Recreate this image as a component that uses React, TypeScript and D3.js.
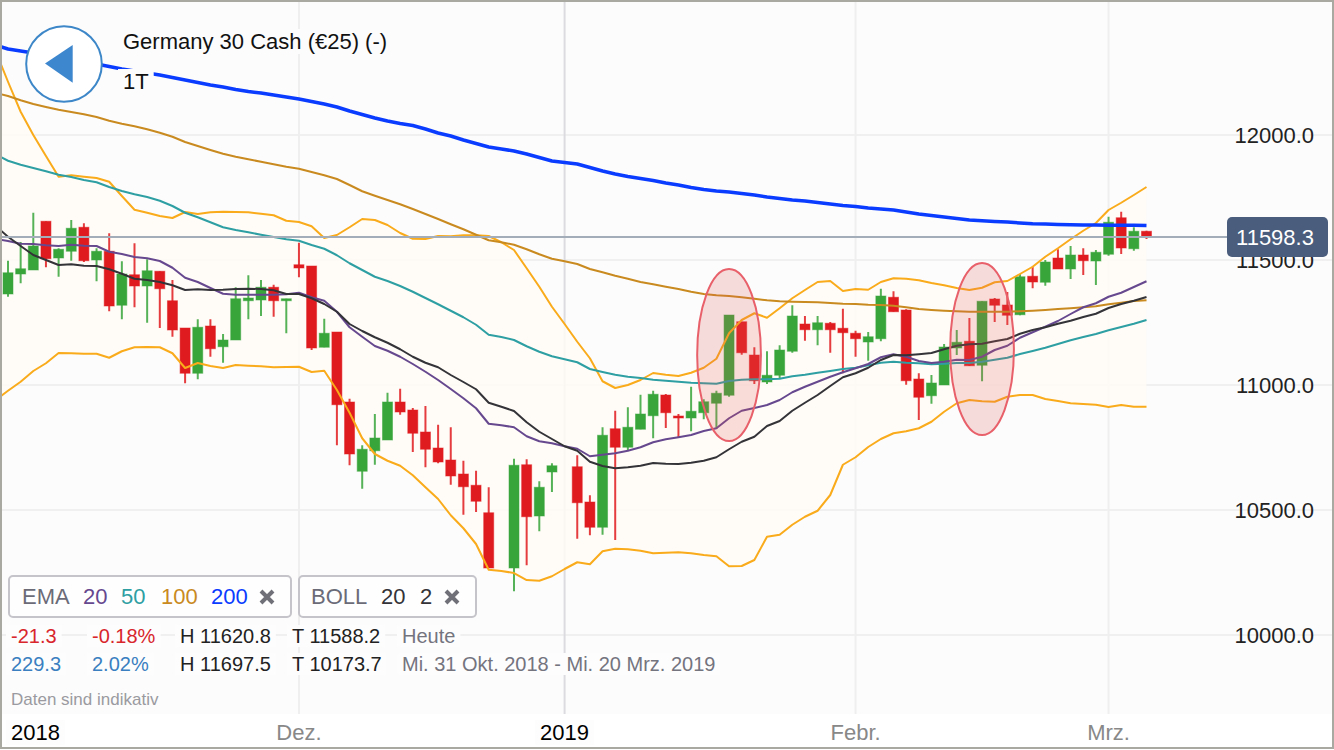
import React, { useEffect, useRef } from 'react';
import * as d3 from 'd3';

const W = 1334;
const H = 750;

// candles, one slot per trading day on the axis (null = no session)
const opens = [
	11364, 11444, 11460, 11655, 11508, 11535, 11631, 11500, 11535, 11319,
	11441, 11396, 11455, 11337, 11228, 11047, 11236, 11153, 11180, 11337,
	11340, 11391, 11337, 11481, 11476, 11151, 11212, 10932, 10655, 10737,
	10780, 10932, 10900, 10812, 10748, 10700, 10644, 10599, 10489, null,
	10268, 10681, 10476, 10652, null, 10673, 10532, 10431, 10825, 10751,
	10823, 10877, 10960, 10876, 10868, 10889, 10927, 10959, 11253, 11120,
	11012, 11039, 11135, 11244, 11221, 11247, 11227, 11207, 11172, 11185,
	11351, 11300, 11024, 10957, 11000, 11148, 11175, 11079, 11344, 11320,
	11281, 11435, 11411, 11508, 11464, 11520, 11496, 11523, 11669, 11545,
	11615,
];
const highs = [
	11497, 11572, 11689, 11655, 11547, 11660, 11647, 11547, 11607, 11495,
	11567, 11503, 11455, 11420, 11228, 11263, 11263, 11204, 11391, 11439,
	11420, 11401, 11345, 11569, 11476, 11265, 11212, 10945, 10759, 10884,
	10969, 10985, 10908, 10916, 10841, 10831, 10697, 10657, 10591, null,
	10705, 10703, 10615, 10687, null, 10719, 10559, 10831, 10897, 10911,
	10961, 10977, 10964, 10884, 10993, 10943, 10977, 11280, 11253, 11151,
	11135, 11159, 11319, 11276, 11276, 11252, 11305, 11217, 11212, 11385,
	11375, 11303, 11047, 11040, 11164, 11220, 11268, 11335, 11348, 11372,
	11444, 11473, 11500, 11543, 11556, 11547, 11540, 11673, 11693, 11631,
	11617,
];
const lows = [
	11353, 11407, 11460, 11471, 11433, 11497, 11492, 11415, 11295, 11263,
	11311, 11249, 11228, 11193, 11007, 11023, 11113, 11089, 11180, 11263,
	11276, 11273, 11207, 11431, 11140, 11151, 10759, 10679, 10585, 10681,
	10780, 10881, 10732, 10671, 10687, 10601, 10481, 10492, 10268, null,
	10175, 10279, 10415, 10572, null, 10385, 10399, 10401, 10380, 10740,
	10823, 10787, 10828, 10791, 10815, 10863, 10825, 10953, 11121, 11004,
	11004, 11025, 11129, 11177, 11159, 11129, 11047, 11113, 11097, 11175,
	11293, 11001, 10860, 10925, 11000, 11120, 11076, 11015, 11252, 11240,
	11279, 11387, 11397, 11464, 11424, 11440, 11400, 11517, 11524, 11537,
	11584,
];
const closes = [
	11449, 11465, 11556, 11505, 11543, 11627, 11497, 11535, 11316, 11444,
	11396, 11457, 11385, 11220, 11047, 11231, 11145, 11180, 11345, 11348,
	11391, 11337, 11345, 11468, 11148, 11207, 10921, 10724, 10743, 10788,
	10932, 10892, 10807, 10743, 10692, 10636, 10593, 10535, 10268, null,
	10679, 10473, 10591, 10677, null, 10529, 10431, 10799, 10751, 10831,
	10884, 10963, 10889, 10868, 10895, 10933, 10967, 11280, 11129, 11017,
	11039, 11140, 11276, 11221, 11249, 11221, 11209, 11185, 11193, 11356,
	11293, 11017, 10951, 11008, 11152, 11171, 11077, 11335, 11319, 11279,
	11433, 11412, 11492, 11464, 11520, 11497, 11531, 11651, 11548, 11615,
	11592,
];

// indicator lines start one session before the first candle (off the left edge)
const bollUpper = [
	12339,
	12213, 12093, 12000, 11916, 11833, 11839, 11833, 11828, 11813, 11756,
	11701, 11689, 11676, 11668, 11692, 11684, 11691, 11693, 11692, 11691,
	11685, 11679, 11657, 11652, 11635, 11588, 11600, 11631, 11664, 11660,
	11640, 11608, 11585, 11584, 11596, 11595, 11599, 11599, 11596, 11571,
	11540, 11467, 11393, 11313, 11244, 11173, 11107, 11015, 10988, 11000,
	11020, 11048, 11041, 11036, 11049, 11069, 11105, 11207, 11260, 11287,
	11269, 11307, 11347, 11380, 11412, 11416, 11376, 11384, 11381, 11412,
	11427, 11425, 11419, 11408, 11399, 11388, 11380, 11389, 11411, 11416,
	11444, 11473, 11513, 11547, 11583, 11617, 11648, 11700, 11729, 11760,
	11792,
];
const bollLower = [
	10940,
	10977, 11013, 11056, 11087, 11128, 11127, 11125, 11125, 11109, 11135,
	11151, 11152, 11151, 11127, 11068, 11088, 11076, 11068, 11080, 11077,
	11075, 11071, 11072, 11073, 11052, 11057, 10980, 10889, 10787, 10724,
	10697, 10677, 10639, 10591, 10544, 10479, 10427, 10364, 10261, 10256,
	10248, 10220, 10217, 10235, 10264, 10291, 10283, 10335, 10345, 10343,
	10337, 10327, 10329, 10331, 10327, 10320, 10315, 10275, 10276, 10300,
	10393, 10401, 10441, 10473, 10497, 10560, 10681, 10711, 10752, 10784,
	10807, 10815, 10827, 10853, 10893, 10927, 10940, 10935, 10933, 10953,
	10960, 10960, 10944, 10936, 10927, 10924, 10921, 10912, 10920, 10913,
	10913,
];
const bollMid = [
	11637,
	11593, 11556, 11520, 11500, 11480, 11483, 11477, 11476, 11463, 11445,
	11425, 11420, 11412, 11399, 11380, 11383, 11380, 11381, 11384, 11385,
	11384, 11379, 11364, 11364, 11347, 11324, 11293, 11244, 11216, 11191,
	11169, 11143, 11113, 11089, 11071, 11040, 11012, 10983, 10929, 10913,
	10896, 10851, 10813, 10784, 10755, 10737, 10693, 10676, 10667, 10671,
	10677, 10688, 10685, 10684, 10689, 10697, 10711, 10743, 10773, 10793,
	10836, 10856, 10897, 10929, 10960, 10996, 11031, 11047, 11069, 11100,
	11120, 11119, 11123, 11128, 11143, 11157, 11163, 11165, 11175, 11184,
	11205, 11220, 11231, 11245, 11257, 11272, 11285, 11308, 11324, 11337,
	11352,
];
const ema20 = [
	11584,
	11576, 11565, 11564, 11559, 11556, 11561, 11557, 11556, 11533, 11524,
	11512, 11507, 11496, 11469, 11429, 11412, 11388, 11365, 11361, 11361,
	11361, 11361, 11363, 11369, 11351, 11337, 11293, 11231, 11193, 11156,
	11137, 11113, 11084, 11053, 11020, 10984, 10947, 10907, 10845, 10839,
	10831, 10795, 10775, 10767, 10755, 10745, 10715, 10721, 10727, 10737,
	10751, 10771, 10783, 10791, 10800, 10816, 10827, 10867, 10897, 10908,
	10920, 10940, 10971, 10993, 11013, 11033, 11051, 11067, 11084, 11111,
	11123, 11113, 11096, 11088, 11093, 11101, 11100, 11113, 11140, 11157,
	11189, 11211, 11233, 11256, 11284, 11311, 11327, 11353, 11369, 11392,
	11415,
];
const ema50 = [
	11923,
	11897, 11881, 11868, 11855, 11841, 11832, 11820, 11811, 11792, 11776,
	11763, 11752, 11737, 11716, 11689, 11671, 11651, 11631, 11620, 11611,
	11601, 11592, 11583, 11577, 11560, 11545, 11519, 11487, 11460, 11433,
	11416, 11396, 11373, 11348, 11323, 11297, 11271, 11241, 11201, 11192,
	11180, 11155, 11133, 11115, 11103, 11091, 11064, 11052, 11041, 11033,
	11028, 11021, 11017, 11013, 11009, 11007, 11005, 11016, 11021, 11023,
	11023, 11025, 11035, 11041, 11049, 11056, 11064, 11069, 11079, 11089,
	11093, 11089, 11087, 11083, 11085, 11088, 11088, 11093, 11101, 11109,
	11124, 11136, 11149, 11164, 11179, 11192, 11204, 11219, 11232, 11245,
	11260,
];
const ema100 = [
	12168,
	12156, 12139, 12124, 12112, 12101, 12092, 12083, 12072, 12057, 12045,
	12035, 12023, 12009, 11993, 11972, 11956, 11940, 11925, 11913, 11903,
	11893, 11883, 11873, 11865, 11852, 11839, 11824, 11800, 11775, 11757,
	11740, 11723, 11704, 11684, 11664, 11643, 11623, 11601, 11579, 11571,
	11561, 11543, 11523, 11505, 11495, 11484, 11464, 11451, 11437, 11425,
	11412, 11403, 11393, 11384, 11373, 11364, 11359, 11356, 11351, 11345,
	11339, 11335, 11333, 11332, 11331, 11328, 11325, 11324, 11321, 11320,
	11317, 11311, 11304, 11300, 11297, 11295, 11293, 11293, 11293, 11293,
	11295, 11297, 11300, 11304, 11307, 11311, 11315, 11323, 11329, 11336,
	11339,
];
const ema200 = [
	12360,
	12344, 12336, 12328, 12318, 12310, 12300, 12292, 12284, 12274, 12264,
	12256, 12248, 12240, 12230, 12220, 12210, 12200, 12192, 12182, 12174,
	12168, 12160, 12152, 12144, 12134, 12124, 12112, 12096, 12082, 12068,
	12056, 12046, 12038, 12024, 12008, 11996, 11980, 11966, 11952, 11944,
	11936, 11924, 11910, 11896, 11890, 11884, 11870, 11856, 11844, 11834,
	11826, 11818, 11808, 11800, 11790, 11782, 11776, 11772, 11766, 11760,
	11752, 11746, 11740, 11736, 11730, 11724, 11718, 11714, 11708, 11704,
	11700, 11692, 11684, 11678, 11672, 11666, 11660, 11657, 11654, 11652,
	11648, 11645, 11644, 11642, 11641, 11640, 11640, 11639, 11639, 11639,
	11638,
];

const priceTicks = [10000, 10500, 11000, 11500, 12000];
const timeTickSlots = [0, 23, 44, 67, 87];
const timeTickLabels = ['2018', 'Dez.', '2019', 'Febr.', 'Mrz.'];
const yearTicks = ['2018', '2019'];
const lastPriceLabel = '11598.3';
// highlighted candles: [slot, price centre, slots half width, price half height]
const highlights = [
	[57, 11120, 2.52, 344],
	[77, 11144, 2.52, 344],
];

const FONT = '"Liberation Sans", sans-serif';
const GREEN = '#38a53b';
const RED = '#e01b1f';

const App: React.FC = () => {
	const svgRef = useRef<SVGSVGElement>(null);

	useEffect(() => {
		if (!svgRef.current) return;
		const svg = d3.select(svgRef.current);
		svg.selectAll('*').remove();

		const x = d3.scaleLinear().domain([0, 90]).range([8, 1146.5]);
		const y = d3.scaleLinear().domain([10000, 12000]).range([635, 135]);

		const defs = svg.append('defs');
		defs.append('clipPath').attr('id', 'plot')
			.append('rect').attr('x', 2).attr('y', 2).attr('width', W - 4).attr('height', 712);

		svg.append('rect').attr('width', W).attr('height', H).attr('fill', '#ffffff');
		svg.append('rect').attr('x', 2).attr('y', 2).attr('width', W - 4).attr('height', 712).attr('fill', '#fcfcfc');

		// grid
		priceTicks.forEach(t => {
			svg.append('line')
				.attr('x1', 2).attr('x2', W - 2)
				.attr('y1', y(t)).attr('y2', y(t))
				.attr('stroke', '#f0f0f0').attr('stroke-width', 2);
		});
		timeTickSlots.slice(1).forEach((s, i) => {
			const isYear = yearTicks.includes(timeTickLabels[i + 1]);
			svg.append('line')
				.attr('x1', x(s)).attr('x2', x(s))
				.attr('y1', 2).attr('y2', 714)
				.attr('stroke', isYear ? '#dcdce0' : '#efefef').attr('stroke-width', 2);
		});

		const plot = svg.append('g').attr('clip-path', 'url(#plot)');

		// lines carry one extra leading session, hence i - 1
		const band = d3.area<number>()
			.x((_, i) => x(i - 1))
			.y0((_, i) => y(bollLower[i]))
			.y1(d => y(d));
		plot.append('path').attr('d', band(bollUpper)).attr('fill', 'rgba(255,251,246,0.85)');

		// candles
		opens.forEach((o, i) => {
			const c = closes[i];
			if (o === null || c === null) return;
			const color = c >= o ? GREEN : RED;
			plot.append('line')
				.attr('x1', x(i)).attr('x2', x(i))
				.attr('y1', y(highs[i] as number)).attr('y2', y(lows[i] as number))
				.attr('stroke', color).attr('stroke-width', 2).attr('stroke-opacity', 0.85);
			plot.append('rect')
				.attr('x', x(i) - 5).attr('width', 10)
				.attr('y', y(Math.max(o, c)))
				.attr('height', Math.max(1, Math.abs(y(o) - y(c))))
				.attr('fill', color)
				.attr('stroke', color).attr('stroke-opacity', 0.5).attr('stroke-width', 1);
		});

		// indicator lines
		const lineGen = d3.line<number>().x((_, i) => x(i - 1)).y(d => y(d));
		const drawLine = (values: number[], color: string, width: number) => {
			plot.append('path')
				.attr('d', lineGen(values))
				.attr('fill', 'none')
				.attr('stroke', color)
				.attr('stroke-width', width)
				.attr('stroke-linejoin', 'round');
		};
		drawLine(bollUpper, '#f9ab1b', 2);
		drawLine(bollLower, '#f9ab1b', 2);
		drawLine(ema100, '#c98a1f', 2);
		drawLine(ema50, '#2e9fa3', 2);
		drawLine(ema20, '#66488f', 2);
		drawLine(bollMid, '#333338', 2);
		drawLine(ema200, '#0a3cff', 3.5);

		// current price line
		const lastY = y(closes[closes.length - 1] as number);
		svg.append('line')
			.attr('x1', 2).attr('x2', 1228)
			.attr('y1', lastY).attr('y2', lastY)
			.attr('stroke', '#a3adba').attr('stroke-width', 2);

		// highlighted candles
		highlights.forEach(([slot, price, dx, dy]) => {
			svg.append('ellipse')
				.attr('cx', x(slot)).attr('cy', y(price))
				.attr('rx', x(slot + dx) - x(slot))
				.attr('ry', y(price - dy) - y(price))
				.attr('fill', 'rgba(226,88,88,0.2)')
				.attr('stroke', '#e8606a').attr('stroke-width', 2);
		});

		const label = (
			txt: string, px: number, py: number,
			size: number, fill: string,
			opts: { anchor?: string; bg?: string; pad?: number } = {},
		) => {
			const t = svg.append('text')
				.attr('x', px).attr('y', py)
				.attr('font-family', FONT).attr('font-size', size)
				.attr('fill', fill)
				.attr('text-anchor', opts.anchor || 'start')
				.text(txt);
			if (opts.bg) {
				const b = (t.node() as SVGTextElement).getBBox();
				const pad = opts.pad ?? 5;
				svg.insert('rect', () => t.node())
					.attr('x', b.x - pad).attr('y', b.y)
					.attr('width', b.width + pad * 2).attr('height', b.height)
					.attr('fill', opts.bg);
			}
			return t;
		};

		// price axis
		priceTicks.forEach(t => {
			label(t.toFixed(1), 1314, y(t) + 8, 22, '#222222', { anchor: 'end' });
		});

		// last price tag
		svg.append('rect')
			.attr('x', 1227).attr('y', 217).attr('width', 101).attr('height', 40).attr('rx', 5)
			.attr('fill', '#4a5d7c');
		label(lastPriceLabel, 1275, 245, 22, '#ffffff', { anchor: 'middle' });

		// time axis
		timeTickSlots.forEach((s, i) => {
			const txt = timeTickLabels[i];
			const isYear = yearTicks.includes(txt);
			if (i === 0) {
				label(txt, 11, 740, 22, '#000000', { bg: '#fdfdfd' });
			} else {
				label(txt, x(s), 740, 22, isYear ? '#000000' : '#888888', { anchor: 'middle', bg: isYear ? '#fdfdfd' : undefined });
			}
		});

		// header
		label('Germany 30 Cash (€25) (-)', 123, 49, 22, '#111111', { bg: '#fcfcfc' });
		label('1T', 123, 89, 22, '#111111', { bg: '#fcfcfc' });

		// back button
		svg.append('circle').attr('cx', 64).attr('cy', 64).attr('r', 37.8)
			.attr('fill', '#ffffff').attr('stroke', '#3d87c8').attr('stroke-width', 2);
		svg.append('path').attr('d', 'M45,63.5 L72.7,45 L72.7,82.7 Z').attr('fill', '#3d87ce');

		// indicator legends
		const chip = (bx: number, bw: number) => {
			svg.append('rect')
				.attr('x', bx).attr('y', 576).attr('width', bw).attr('height', 41).attr('rx', 4)
				.attr('fill', '#fefefe').attr('stroke', '#c4c4ca').attr('stroke-width', 2);
		};
		const cross = (cx: number) => {
			svg.append('path')
				.attr('d', `M${cx - 6},${597 - 6} L${cx + 6},${597 + 6} M${cx + 6},${597 - 6} L${cx - 6},${597 + 6}`)
				.attr('stroke', '#6f7078').attr('stroke-width', 4);
		};
		chip(9, 282);
		label('EMA', 22, 604, 22, '#6b6b78');
		label('20', 83, 604, 22, '#66488f');
		label('50', 121, 604, 22, '#2e9fa3');
		label('100', 161, 604, 22, '#c98a1f');
		label('200', 211, 604, 22, '#0a3cff');
		cross(267);
		chip(299, 177);
		label('BOLL', 311, 604, 22, '#6b6b78');
		label('20', 381, 604, 22, '#333338');
		label('2', 420, 604, 22, '#333338');
		cross(452);

		// change rows
		const BG = '#fdfdfd';
		label('-21.3', 11, 643, 20, '#d8262c', { bg: BG });
		label('-0.18%', 92, 643, 20, '#d8262c', { bg: BG });
		label('H 11620.8', 180, 643, 20, '#222222', { bg: BG });
		label('T 11588.2', 292, 643, 20, '#222222', { bg: BG });
		label('Heute', 402, 643, 20, '#74747f', { bg: BG });
		label('229.3', 11, 671, 20, '#3a7fc0', { bg: BG });
		label('2.02%', 92, 671, 20, '#3a7fc0', { bg: BG });
		label('H 11697.5', 180, 671, 20, '#222222', { bg: BG });
		label('T 10173.7', 292, 671, 20, '#222222', { bg: BG });
		label('Mi. 31 Okt. 2018 - Mi. 20 Mrz. 2019', 402, 671, 20, '#74747f', { bg: BG });
		label('Daten sind indikativ', 11, 705, 17, '#9a9aa0');

		// outer frame
		svg.append('rect').attr('x', 1).attr('y', 1).attr('width', W - 2).attr('height', H - 3)
			.attr('fill', 'none').attr('stroke', '#a9a9a1').attr('stroke-width', 2);
	}, []);

	return (
		<svg
			ref={svgRef}
			width={W}
			height={H}
			style={{ position: 'absolute', left: 0, top: 0, display: 'block' }}
		/>
	);
};

export default App;
